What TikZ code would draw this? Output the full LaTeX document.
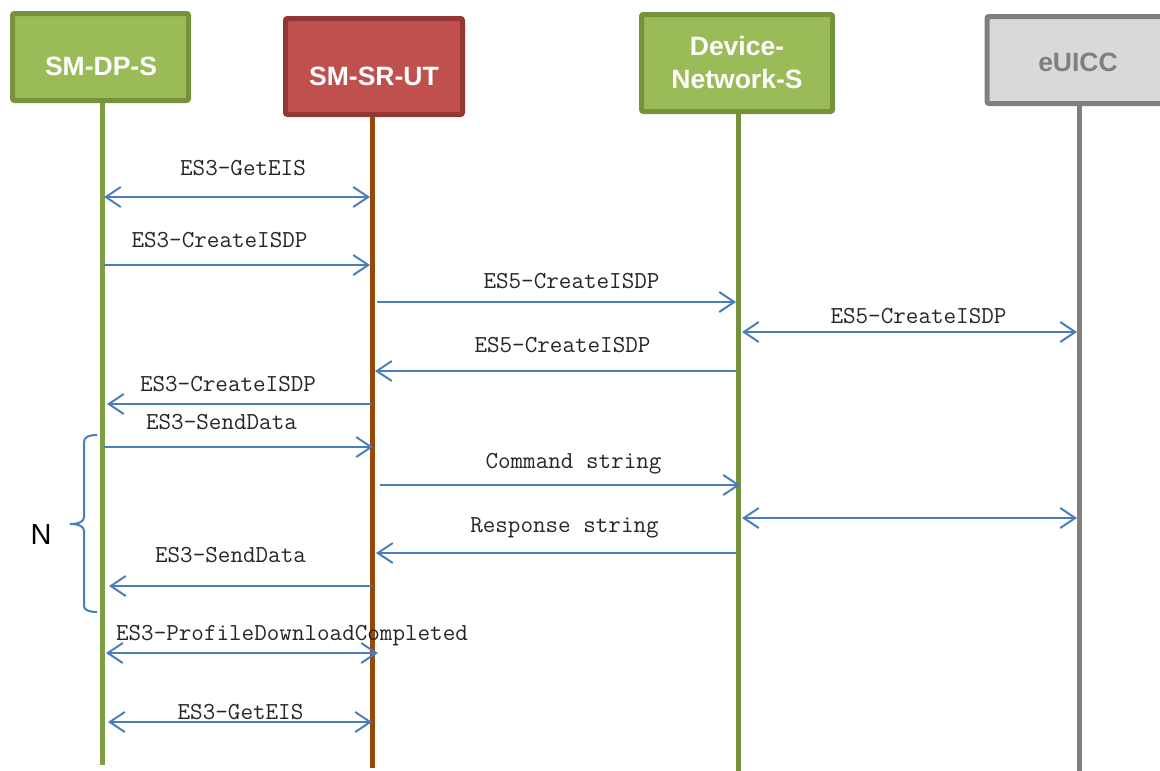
\documentclass[tikz,border=0pt]{standalone}
\usepackage{fontspec}
\setmainfont{Liberation Sans}
\usetikzlibrary{arrows.meta}
\definecolor{gfill}{HTML}{9BBB59}
\definecolor{gline}{HTML}{76923C}
\definecolor{glife}{HTML}{7E9E44}
\definecolor{rfill}{HTML}{C0504D}
\definecolor{rline}{HTML}{943634}
\definecolor{rlife}{HTML}{984807}
\definecolor{efill}{HTML}{D9D9D9}
\definecolor{eline}{HTML}{7F7F7F}
\definecolor{msgblue}{HTML}{4A7EBB}
\tikzset{
  hbox/.style={draw, line width=5pt, rounded corners=2pt, inner sep=0pt},
  htext/.style={text=white, font=\fontsize{26.5}{33}\selectfont\bfseries, align=center, inner sep=0pt},
  life/.style={line width=5pt},
  msg/.style={draw=msgblue, line width=2pt, -{Straight Barb[length=15pt,width=20pt]}},
  dmsg/.style={draw=msgblue, line width=2pt, {Straight Barb[length=15pt,width=20pt]}-{Straight Barb[length=15pt,width=20pt]}},
  mlabel/.style={anchor=base, inner sep=0pt, font=\ttfamily\fontsize{24.4}{28}\selectfont, text=black!85}
}
\begin{document}
\begin{tikzpicture}[x=1pt,y=-1pt]
\useasboundingbox (0,0) rectangle (1160,771);
% header boxes
\node[hbox, draw=gline, fill=gfill, minimum width=176pt, minimum height=87pt] (dp) at (100.5,57) {};
\node[hbox, draw=rline, fill=rfill, minimum width=177pt, minimum height=96pt] (sr) at (374,66.5) {};
\node[hbox, draw=gline, fill=gfill, minimum width=191pt, minimum height=97pt] (dn) at (737,63) {};
\node[hbox, draw=eline, fill=efill, minimum width=180pt, minimum height=87pt] (eu) at (1077,60) {};
\node[htext] (dpt) at (101,66) {SM-DP-S};
\node[htext] (srt) at (374,76) {SM-SR-UT};
\node[htext] (dnt) at (737,63) {Device-\\Network-S};
\node[htext, text=eline] (eut) at (1078,62) {eUICC};
% lifelines
\coordinate (dpl) at (102,103);
\coordinate (srl) at (372,117);
\coordinate (dnl) at (738,114);
\coordinate (eul) at (1079,106);
\coordinate (dpb) at (102,765);
\coordinate (srb) at (372,768);
\coordinate (dnb) at (738,771);
\coordinate (eub) at (1079,771);
\draw[life, glife] (dpl) -- (dpb);
\draw[life, rlife] (srl) -- (srb);
\draw[life, gline] (dnl) -- (dnb);
\draw[life, eline] (eul) -- (eub);
% messages
\draw[dmsg] ([xshift=2pt]dpl |- 0,197) -- ([xshift=-2pt]srl |- 0,197);
\node[mlabel] (l1) at (243,175) {ES3-GetEIS};
\draw[msg] ([xshift=2pt]dpl |- 0,265) -- ([xshift=-2pt]srl |- 0,265);
\node[mlabel] (l2) at (219.5,247) {ES3-CreateISDP};
\draw[msg] ([xshift=5pt]srl |- 0,302) -- ([xshift=-2pt]dnl |- 0,302);
\node[mlabel] (l3) at (571.5,288) {ES5-CreateISDP};
\draw[dmsg] ([xshift=4pt]dnl |- 0,332) -- ([xshift=-2pt]eul |- 0,332);
\node[mlabel] (l4) at (918.5,323) {ES5-CreateISDP};
\draw[msg] ([xshift=-2pt]dnl |- 0,371) -- ([xshift=3pt]srl |- 0,371);
\node[mlabel] (l5) at (562.5,352) {ES5-CreateISDP};
\draw[msg] (srl |- 0,404) -- ([xshift=5pt]dpl |- 0,404);
\node[mlabel] (l6) at (228,391) {ES3-CreateISDP};
\draw[msg] ([xshift=2pt]dpl |- 0,447) -- ([xshift=1pt]srl |- 0,447);
\node[mlabel] (l7) at (221.5,429) {ES3-SendData};
\draw[msg] ([xshift=8pt]srl |- 0,485) -- ([xshift=2pt]dnl |- 0,485);
\node[mlabel] (l8) at (573.5,468) {Command string};
\draw[dmsg] ([xshift=4pt]dnl |- 0,518) -- ([xshift=-2pt]eul |- 0,518);
\draw[msg] ([xshift=-2pt]dnl |- 0,553) -- ([xshift=4pt]srl |- 0,553);
\node[mlabel] (l9) at (564.5,532) {Response string};
\draw[msg] (srl |- 0,586) -- ([xshift=7pt]dpl |- 0,586);
\node[mlabel] (l10) at (230.5,562) {ES3-SendData};
\draw[dmsg] ([xshift=4pt]dpl |- 0,653) -- ([xshift=6pt]srl |- 0,653);
\node[mlabel] (l11) at (292,640) {ES3-ProfileDownloadCompleted};
\draw[dmsg] ([xshift=6pt]dpl |- 0,722) -- (srl |- 0,722);
\node[mlabel] (l12) at (240.5,719) {ES3-GetEIS};
% brace and N
\draw[msgblue, line width=2pt] (97,435) .. controls (89,435) and (84,437) .. (84,442) -- (84,517) .. controls (84,521) and (80,524) .. (70,524) .. controls (80,524) and (84,527) .. (84,531) -- (84,606) .. controls (84,610) and (89,612) .. (97,612);
\node[inner sep=0pt, font=\fontsize{29}{33}\selectfont] (nlab) at (41,535) {N};
\end{tikzpicture}
\end{document}
